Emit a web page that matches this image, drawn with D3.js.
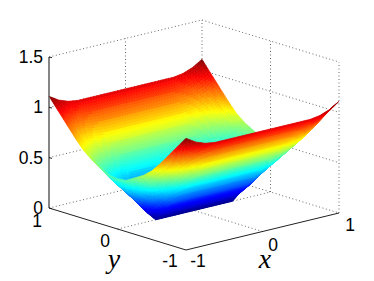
<!DOCTYPE html>
<html><head><meta charset="utf-8">
<script src="https://cdn.jsdelivr.net/npm/d3@7"></script>
<style>html,body{margin:0;padding:0;background:#fff}svg{display:block}</style>
</head><body><svg id="c" width="374" height="281"></svg>
<script>
const gridX=[-1,-.875,-.75,-.625,-.5,-.375,-.25,-.125,0,.125,.25,.375,.5,.625,.75,.875,1];
const gridY=[-1,-.875,-.75,-.625,-.5,-.375,-.25,-.125,0,.125,.25,.375,.5,.625,.75,.875,1];
const zGrid=[
[1.11,1.05,1.015,1.0,1,1,1,1,1,1,1,1,1,1.0,1.015,1.05,1.11],
[1.0,.94,.89,.88,.87,.87,.87,.87,.87,.87,.87,.87,.87,.88,.89,.94,1.0],
[.89,.81,.77,.75,.74,.74,.74,.74,.74,.74,.74,.74,.74,.75,.77,.81,.89],
[.78,.70,.65,.63,.61,.61,.61,.61,.61,.61,.61,.61,.61,.63,.65,.70,.78],
[.68,.60,.55,.51,.49,.49,.49,.49,.49,.49,.49,.49,.49,.51,.55,.60,.68],
[.61,.50,.44,.39,.37,.37,.37,.37,.37,.37,.37,.37,.37,.39,.44,.50,.61],
[.56,.43,.35,.28,.24,.24,.24,.24,.24,.24,.24,.24,.24,.28,.35,.43,.56],
[.51,.38,.27,.17,.12,.12,.12,.12,.12,.12,.12,.12,.12,.17,.27,.38,.51],
[.50,.36,.23,.10,0,0,0,0,0,0,0,0,0,.10,.23,.36,.50],
[.51,.38,.27,.17,.12,.12,.12,.12,.12,.12,.12,.12,.12,.17,.27,.38,.51],
[.56,.43,.35,.28,.24,.24,.24,.24,.24,.24,.24,.24,.24,.28,.35,.43,.56],
[.61,.50,.44,.39,.37,.37,.37,.37,.37,.37,.37,.37,.37,.39,.44,.50,.61],
[.68,.60,.55,.51,.49,.49,.49,.49,.49,.49,.49,.49,.49,.51,.55,.60,.68],
[.78,.70,.65,.63,.61,.61,.61,.61,.61,.61,.61,.61,.61,.63,.65,.70,.78],
[.89,.81,.77,.75,.74,.74,.74,.74,.74,.74,.74,.74,.74,.75,.77,.81,.89],
[1.0,.94,.89,.88,.87,.87,.87,.87,.87,.87,.87,.87,.87,.88,.89,.94,1.0],
[1.11,1.05,1.015,1.0,1,1,1,1,1,1,1,1,1,1.0,1.015,1.05,1.11]];
const xTicks=[-1,0,1], yTicks=[-1,0,1], zTicks=[0,.5,1,1.5];
const zTickLabels=["0","0.5","1","1.5"];
const jetStops=[0,.125,.375,.625,.875,1];
const jetColors=["#00008f","#0000ff","#00ffff","#ffff00","#ff0000","#800000"];

const svg=d3.select("#c");
const xToPx=d3.scaleLinear([-1,1],[-76.5,76.5]), xToPy=d3.scaleLinear([-1,1],[18.5,-18.5]);
const yToPx=d3.scaleLinear([-1,1],[68.5,-68.5]), yToPy=d3.scaleLinear([-1,1],[21,-21]);
const zToPy=d3.scaleLinear([0,1.5],[0,-151]);
const P=(x,y,z)=>[194+xToPx(x)+yToPx(y),210.5+xToPy(x)+yToPy(y)+zToPy(z)];
const jet=d3.scaleLinear(jetStops.map(d=>d*1.11),jetColors).clamp(true);
const quant=d3.scaleQuantize([0,1.11],d3.range(64).map(i=>jet((i+.5)/64*1.11)));

const line=(a,b,o)=>svg.append("line").attr("x1",a[0]).attr("y1",a[1]).attr("x2",b[0]).attr("y2",b[1])
  .attr("stroke",o.c).attr("stroke-width",o.w||1).attr("stroke-dasharray",o.d||null);
const dot={c:"#666",w:1,d:"1 2.5"}, solid={c:"#222",w:1};
// floor
line(P(-1,1,0),P(1,1,0),dot); line(P(1,1,0),P(1,-1,0),dot);
xTicks.slice(1,2).forEach(x=>line(P(x,-1,0),P(x,1,0),dot));
yTicks.slice(1,2).forEach(y=>line(P(-1,y,0),P(1,y,0),dot));
// back walls
zTicks.slice(1).forEach(z=>{line(P(-1,1,z),P(1,1,z),dot);line(P(1,1,z),P(1,-1,z),dot);});
line(P(0,1,0),P(0,1,1.5),dot); line(P(1,0,0),P(1,0,1.5),dot);
line(P(1,1,0),P(1,1,1.5),dot); line(P(1,-1,0),P(1,-1,1.5),dot);

// surface, drawn back to front
const g=svg.append("g"); const sub=6;
for(let i=gridX.length-2;i>=0;i--){
 for(let j=gridY.length-2;j>=0;j--){
  const x0=gridX[i],x1=gridX[i+1],y0=gridY[j],y1=gridY[j+1];
  const a=zGrid[j][i],b=zGrid[j][i+1],c=zGrid[j+1][i],e=zGrid[j+1][i+1];
  for(let si=sub-1;si>=0;si--)for(let sj=sub-1;sj>=0;sj--){
    const pt=(s,t)=>{const u=(si+s)/sub,v=(sj+t)/sub;
      const z=a*(1-u)*(1-v)+b*u*(1-v)+c*(1-u)*v+e*u*v;
      return {p:P(x0+(x1-x0)*u,y0+(y1-y0)*v,z),z};};
    const q=[pt(0,0),pt(1,0),pt(1,1),pt(0,1)];
    const col=quant(d3.mean(q,d=>d.z));
    g.append("polygon").attr("points",q.map(d=>d.p.map(n=>n.toFixed(2)).join(",")).join(" "))
     .attr("fill",col).attr("stroke",col).attr("stroke-width",.6);
  }
 }
}

// solid axes
line(P(-1,1,0),P(-1,1,1.5),{c:"#444",w:1.3});
line(P(-1,1,0),P(-1,-1,0),solid); line(P(-1,-1,0),P(1,-1,0),solid);
zTicks.forEach(z=>{const p=P(-1,1,z);line(p,[p[0]+3,p[1]+.7],solid);});
const t=(s,x,y,o={})=>svg.append("text").attr("x",x).attr("y",y).attr("text-anchor",o.a||"middle")
  .attr("font-family",o.f||"'Liberation Sans',Arial,sans-serif").attr("font-size",o.s||17.5)
  .attr("font-style",o.i?"italic":null).attr("fill","#000").text(s);
zTicks.forEach((z,i)=>{const p=P(-1,1,z);t(zTickLabels[i],p[0]-6,p[1]+6,{a:"end"});});
[[yTicks[2],37,227],[yTicks[1],105,247],[yTicks[0],170,267]].forEach(d=>t(String(d[0]),d[1],d[2]));
[[xTicks[0],198,267],[xTicks[1],273,251],[xTicks[2],350,231]].forEach(d=>t(String(d[0]),d[1],d[2]));
t("y",114,268,{f:"'Liberation Serif',serif",s:28,i:1});
t("x",265,268,{f:"'Liberation Serif',serif",s:28,i:1});
</script></body></html>
